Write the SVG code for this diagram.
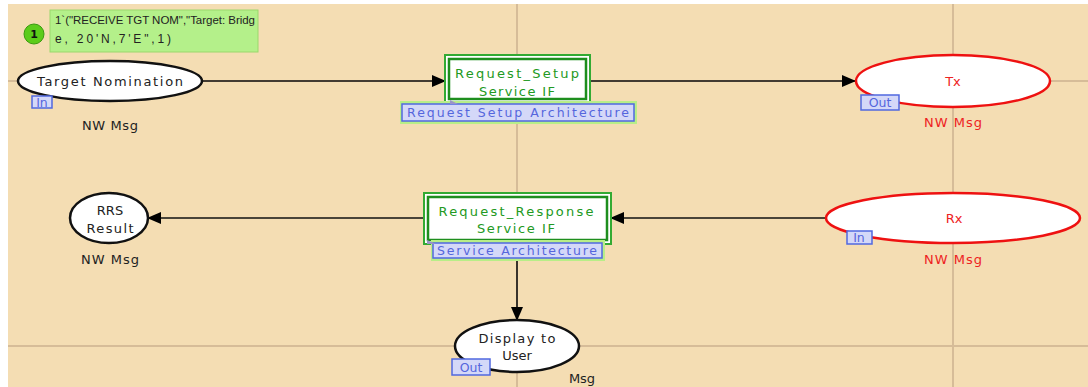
<svg xmlns="http://www.w3.org/2000/svg" width="1088" height="387" viewBox="0 0 1088 387">
<defs>
<style>
text{font-family:"DejaVu Sans","Liberation Sans",sans-serif;font-size:13px;text-anchor:middle}
.place{fill:#fff;stroke:#111;stroke-width:2.5}
.port{fill:#fff;stroke:#ee1111;stroke-width:2.5}
.red{fill:#ee2222}
.blk{fill:#222}
.grn{fill:#229922}
.tag{fill:#d4d8f8;stroke:#5068e0;stroke-width:1.5}
.tagt{fill:#5566dd;font-size:12.5px}
.glow{fill:none;stroke:#b8ee88;stroke-width:4}
.arc{stroke:#111;stroke-width:1.6;fill:none}
.grid{stroke:#d6bc98;stroke-width:2}
.tok{font-family:"Liberation Sans",sans-serif;font-size:12px;text-anchor:start;fill:#222}
</style>
<marker id="ah" markerWidth="14" markerHeight="12" refX="13" refY="6" orient="auto" markerUnits="userSpaceOnUse">
<path d="M0,0 L14,6 L0,12 Z" fill="#000"/>
</marker>
</defs>
<rect x="0" y="0" width="1088" height="387" fill="#fff"/>
<rect x="8" y="4" width="1080" height="383" fill="#f4ddb3"/>
<g id="grid">
<line class="grid" x1="8" y1="81" x2="1088" y2="81"/>
<line class="grid" x1="8" y1="346" x2="1088" y2="346"/>
<line class="grid" x1="517" y1="4" x2="517" y2="387"/>
<line class="grid" x1="953" y1="4" x2="953" y2="387"/>
</g>
<g id="connectors">
<line class="arc" x1="202" y1="81" x2="445" y2="81" marker-end="url(#ah)"/>
<line class="arc" x1="590" y1="81" x2="855" y2="81" marker-end="url(#ah)"/>
<line class="arc" x1="826" y1="218" x2="611" y2="218" marker-end="url(#ah)"/>
<line class="arc" x1="424" y1="218" x2="148" y2="218" marker-end="url(#ah)"/>
<line class="arc" x1="517" y1="258" x2="517" y2="320" marker-end="url(#ah)"/>
</g>
<g id="target-nomination">
<ellipse class="place" cx="110" cy="81" rx="92" ry="20"/>
<text class="blk" x="110" y="86" textLength="146" lengthAdjust="spacing">Target Nomination</text>
<rect class="tag" x="32" y="96" width="20" height="12"/>
<text class="tagt" x="42" y="106.5">In</text>
<text class="blk" x="110" y="130" textLength="56" lengthAdjust="spacing">NW Msg</text>
</g>
<g id="token">
<rect x="50" y="10" width="208" height="42" fill="#b4f08a" stroke="#9ad86c" stroke-width="1"/>
<text class="tok" x="55" y="24" style="font-size:11.5px" textLength="200" lengthAdjust="spacing">1`("RECEIVE TGT NOM","Target: Bridg</text>
<text class="tok" x="55" y="43" textLength="116" lengthAdjust="spacing">e, 20'N,7'E",1)</text>
<circle cx="34" cy="34" r="10" fill="#5ccc1a" stroke="#3a9a10" stroke-width="1"/>
<text x="34" y="38" style="font-weight:bold;font-size:11px" fill="#111">1</text>
</g>
<g id="request-setup">
<rect x="445" y="55" width="145" height="48" fill="#fff" stroke="#33aa33" stroke-width="2"/>
<rect x="449" y="59" width="137" height="40" fill="#fff" stroke="#1e8e1e" stroke-width="2.5"/>
<text class="grn" x="517" y="78" textLength="124" lengthAdjust="spacing">Request_Setup</text>
<text class="grn" x="517" y="96" textLength="76" lengthAdjust="spacing">Service IF</text>
<rect class="glow" x="402" y="103" width="233" height="19"/>
<rect class="tag" x="402" y="104" width="232" height="17"/>
<polygon points="450,100 458,104 450,104" fill="#9a94c8"/>
<text class="tagt" x="518" y="117" textLength="222" lengthAdjust="spacing">Request Setup Architecture</text>
</g>
<g id="tx">
<ellipse class="port" cx="953" cy="81" rx="97" ry="26"/>
<text class="red" x="953" y="86">Tx</text>
<rect class="tag" x="861" y="95" width="38" height="15"/>
<text class="tagt" x="880" y="107">Out</text>
<text class="red" x="953" y="127" textLength="58" lengthAdjust="spacing">NW Msg</text>
</g>
<g id="rx">
<ellipse class="port" cx="953" cy="218" rx="127" ry="25"/>
<text class="red" x="954" y="223">Rx</text>
<rect class="tag" x="847" y="231" width="25" height="13"/>
<text class="tagt" x="859" y="242">In</text>
<text class="red" x="953" y="264" textLength="58" lengthAdjust="spacing">NW Msg</text>
</g>
<g id="request-response">
<rect x="424" y="193" width="187" height="51" fill="#fff" stroke="#33aa33" stroke-width="2"/>
<rect x="428" y="197" width="179" height="43" fill="#fff" stroke="#1e8e1e" stroke-width="2.5"/>
<text class="grn" x="516" y="216" textLength="155" lengthAdjust="spacing">Request_Response</text>
<text class="grn" x="516" y="233" textLength="78" lengthAdjust="spacing">Service IF</text>
<rect class="glow" x="433" y="242" width="170" height="17"/>
<rect class="tag" x="433" y="243" width="169" height="15"/>
<polygon points="427,240 436,244 427,244" fill="#9a94c8"/>
<text class="tagt" x="517" y="255" textLength="160" lengthAdjust="spacing">Service Architecture</text>
</g>
<g id="rrs-result">
<ellipse class="place" cx="109" cy="218" rx="39" ry="25"/>
<text class="blk" x="110" y="215">RRS</text>
<text class="blk" x="110" y="233" textLength="47" lengthAdjust="spacing">Result</text>
<text class="blk" x="110" y="264" textLength="58" lengthAdjust="spacing">NW Msg</text>
</g>
<g id="display-to-user">
<ellipse class="place" cx="517" cy="346" rx="62" ry="26"/>
<text class="blk" x="517" y="343" textLength="77" lengthAdjust="spacing">Display to</text>
<text class="blk" x="517" y="360">User</text>
<rect class="tag" x="452" y="359" width="38" height="16"/>
<text class="tagt" x="471" y="371.5">Out</text>
<text class="blk" x="582" y="383">Msg</text>
</g>
</svg>
